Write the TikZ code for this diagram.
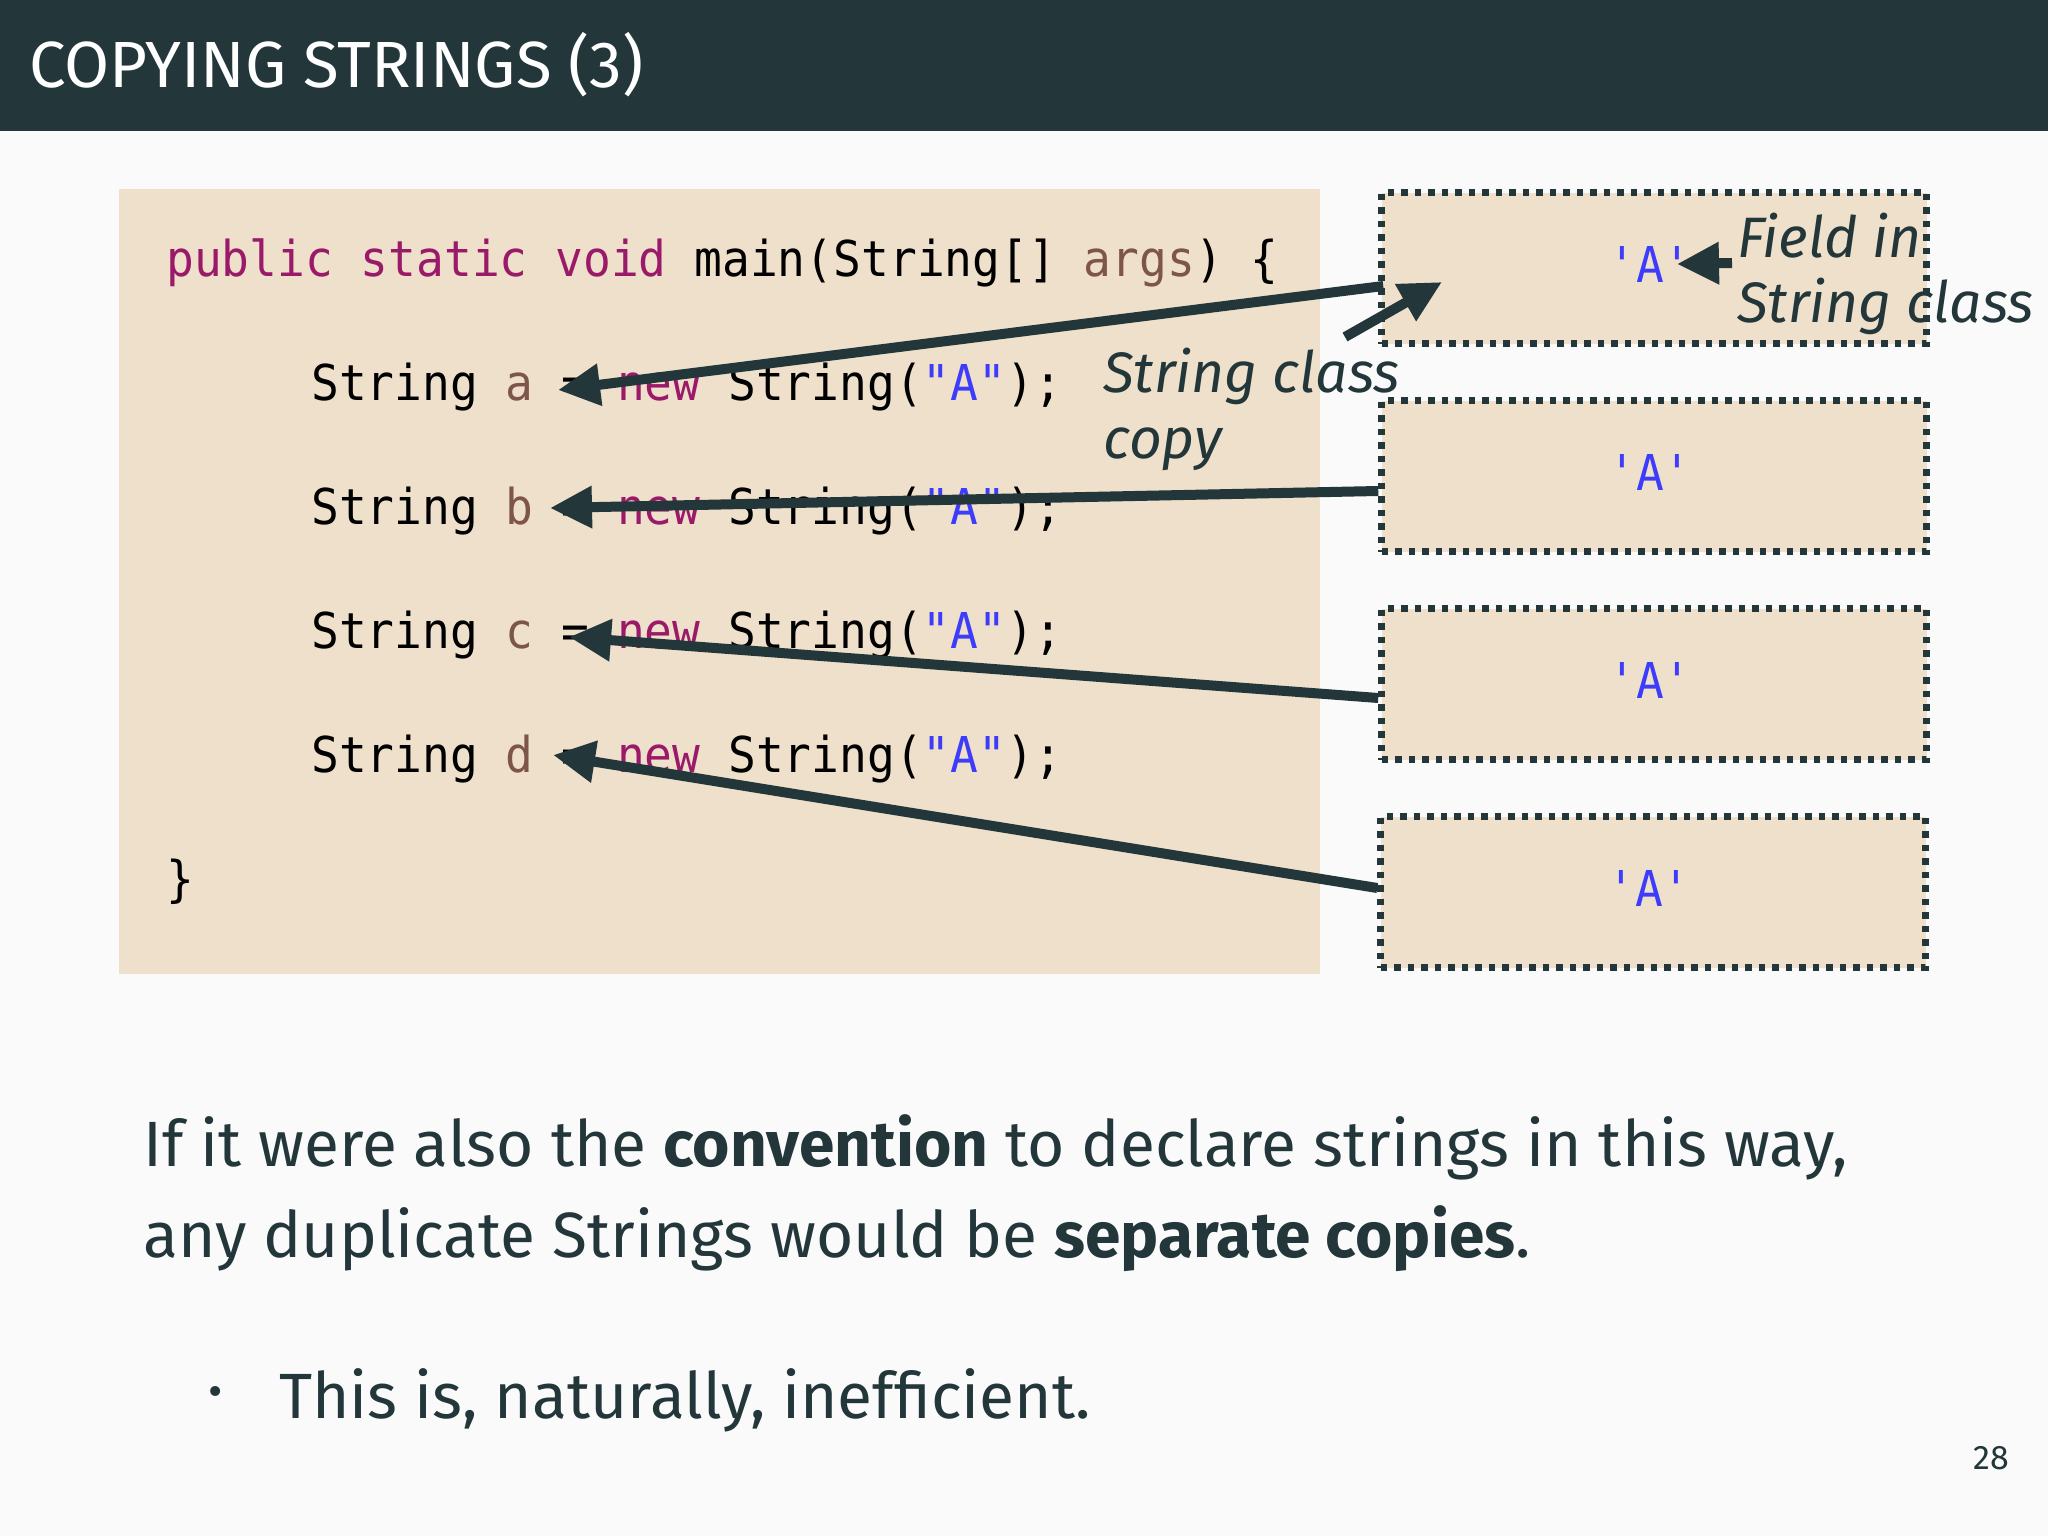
\documentclass[tikz,border=0pt]{standalone}
\usepackage{fontspec}
\setmainfont{Fira Sans}
\newfontfamily\codefont[FakeStretch=0.935]{DejaVu Sans Mono}
\usetikzlibrary{arrows.meta,calc}
\definecolor{mteal}{HTML}{23373B}
\definecolor{bgc}{HTML}{FAFAFA}
\definecolor{beige}{RGB}{238,224,203}
\definecolor{kw}{RGB}{155,25,105}
\definecolor{varc}{RGB}{125,85,75}
\definecolor{strc}{RGB}{60,60,250}
\begin{document}
\begin{tikzpicture}[x=1pt,y=-1pt,
  codeline/.style={anchor=base west, inner sep=0pt, text=black, font=\codefont\fontsize{49.4}{55}\selectfont},
  membox/.style={draw=mteal, fill=beige, line width=6.5pt, dash pattern=on 6.5pt off 7pt, minimum width=545pt, minimum height=151pt, inner sep=0pt},
  charlbl/.style={inner sep=0pt, text=strc, font=\codefont\fontsize{49.4}{55}\selectfont},
  note/.style={anchor=base west, inner sep=0pt, text=mteal, font=\itshape\fontsize{57}{62}\selectfont},
  body/.style={anchor=base west, inner sep=0pt, text=mteal, font=\fontsize{64}{70}\selectfont},
  ptr/.style={draw=mteal, line width=10pt, -{Triangle[length=42pt,width=40pt]}},
]
\useasboundingbox (0,0) rectangle (2048,1536);
\fill[bgc] (0,0) rectangle (2048,1536);
\fill[mteal] (0,0) rectangle (2048,131);
\node[anchor=base west, inner sep=0pt, text=white, font=\fontsize{65.3}{70}\selectfont] (title) at (29,88) {COPYING STRINGS (3)};

% code area
\fill[beige] (119,189) rectangle (1320,974);
\node[codeline] (l1) at (166,276) {{\color{kw}public static void} main(String[] {\color{varc}args}) \{};
\node[codeline] (la) at (311,400) {String {\color{varc}a} = {\color{kw}new} String({\color{strc}"A"});};
\node[codeline] (lb) at (311,524) {String {\color{varc}b} = {\color{kw}new} String({\color{strc}"A"});};
\node[codeline] (lc) at (311,648) {String {\color{varc}c} = {\color{kw}new} String({\color{strc}"A"});};
\node[codeline] (ld) at (311,772) {String {\color{varc}d} = {\color{kw}new} String({\color{strc}"A"});};
\node[codeline] (l6) at (166,896) {\}};

% memory boxes
\node[membox] (b1) at (1654,268) {};
\node[membox] (b2) at (1654,476) {};
\node[membox] (b3) at (1654,684) {};
\node[membox] (b4) at (1653,892) {};
\node[charlbl] (c1) at ($(b1.center)+(-4,-4)$) {'A'};
\node[charlbl] (c2) at ($(b2.center)+(-4,-4)$) {'A'};
\node[charlbl] (c3) at ($(b3.center)+(-4,-4)$) {'A'};
\node[charlbl] (c4) at ($(b4.center)+(-4,-4)$) {'A'};

% notes
\node[note] (f1) at (1737,257) {Field in};
\node[note] (f2) at (1737,322) {String class};
\node[note] (s1) at (1103,392) {String class};
\node[note] (s2) at (1103,458) {copy};

% arrows
\coordinate (ta) at (558,390);
\coordinate (tb) at (550,508);
\coordinate (tc) at (569,637);
\coordinate (td) at (553,755);
\draw[ptr] ($(b1.west)+(5,18)$) -- (ta);
\draw[ptr] ($(b2.west)+(0,15)$) -- (tb);
\draw[ptr] ($(b3.west)+(0,14)$) -- (tc);
\draw[ptr] ($(b4.west)+(0,-4)$) -- (td);
\coordinate (cs) at (1345,337);
\coordinate (ce) at (1442,282);
\draw[ptr] (cs) -- (ce);
\coordinate (fs) at (1732,263);
\coordinate (fe) at (1677,264);
\draw[ptr] (fs) -- (fe);

% body text
\node[body] (t1) at (143,1166) {If it were also the \textbf{convention} to declare strings in this way,};
\node[body] (t2) at (143,1257) {any duplicate Strings would be \textbf{separate copies}.};
\node[inner sep=0pt, text=mteal, font=\fontsize{44}{46}\selectfont] (bul) at (216,1396) {•};
\node[body] (t3) at (279,1418) {This is, naturally, inefficient.};
\node[anchor=base east, inner sep=0pt, text=mteal, font=\fontsize{34}{36}\selectfont] (pg) at (2009,1469) {28};
\end{tikzpicture}
\end{document}
